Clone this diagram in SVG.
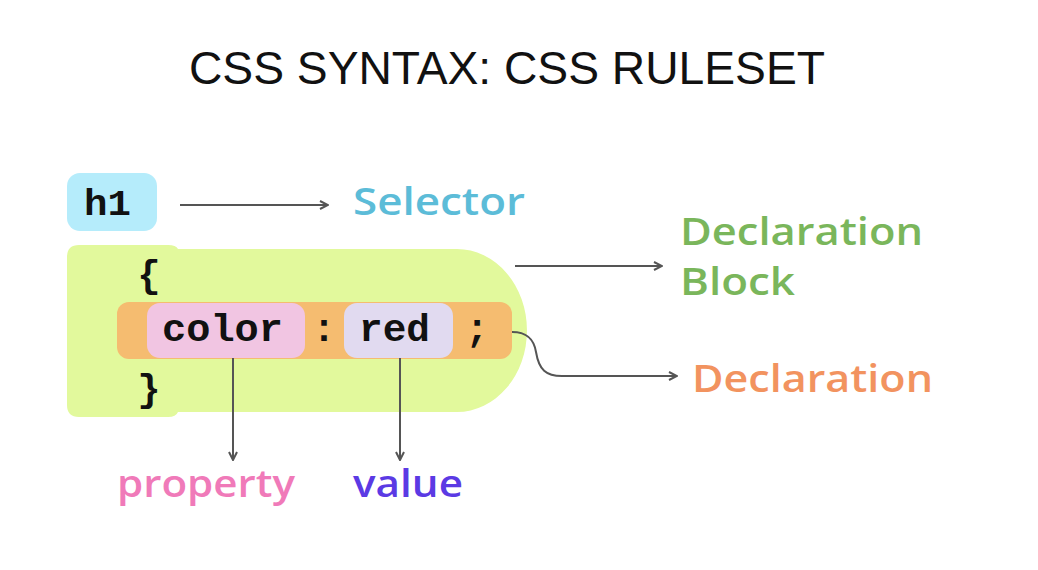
<svg xmlns="http://www.w3.org/2000/svg" width="1038" height="570" viewBox="0 0 1038 570">
<style>
.code{font-family:"Liberation Mono","DejaVu Sans Mono",monospace;font-weight:bold;fill:#111;}
.lbl{font-family:"Open Sans","Noto Sans",sans-serif;font-weight:600;font-size:37px;}
.conn{stroke:#555;stroke-width:2;fill:none;}
</style>
<defs>
<marker id="arr" viewBox="0 0 10 10" refX="9" refY="5" markerWidth="10" markerHeight="10" markerUnits="userSpaceOnUse" orient="auto">
<path d="M1,1 L9,5 L1,9" fill="none" stroke="#555" stroke-width="2"/>
</marker>
</defs>
<rect width="1038" height="570" fill="#ffffff"/>
<text x="189" y="84" font-family="'Liberation Sans',Arial,sans-serif" font-size="46" fill="#111" textLength="636" lengthAdjust="spacingAndGlyphs">CSS SYNTAX: CSS RULESET</text>

<g id="block">
<path d="M79,245 L168,245 Q176,245 178,249 L457,249 A70,81.5 0 0 1 457,412 L178,412 Q176,417 168,417 L79,417 Q67,417 67,405 L67,257 Q67,245 79,245 Z" fill="#e2f99c"/>
<text class="code" x="149" y="287" font-size="39" text-anchor="middle">{</text>
<text class="code" x="149" y="401" font-size="39" text-anchor="middle">}</text>
</g>
<g id="declaration">
<rect x="117" y="302" width="395" height="57" rx="12" fill="#f5bc70"/>
<text class="code" x="324" y="341" font-size="39" text-anchor="middle">:</text>
<text class="code" x="477" y="341" font-size="39" text-anchor="middle">;</text>
</g>
<g id="prop">
<rect x="147" y="303" width="158" height="55" rx="13" fill="#f1c5e2"/>
<text class="code" x="162" y="341" font-size="39" textLength="121" lengthAdjust="spacingAndGlyphs">color</text>
</g>
<g id="val">
<rect x="344" y="303" width="109" height="55" rx="13" fill="#e1daf0"/>
<text class="code" x="359" y="341" font-size="39" textLength="71" lengthAdjust="spacingAndGlyphs">red</text>
</g>
<g id="h1">
<rect x="67" y="173" width="90" height="58" rx="13" fill="#b5ecfb"/>
<text class="code" x="84" y="215" font-size="37" textLength="47" lengthAdjust="spacingAndGlyphs">h1</text>
</g>

<g id="labels">
<text class="lbl" x="353" y="215" fill="#5cbcd8" textLength="172" lengthAdjust="spacingAndGlyphs">Selector</text>
<text class="lbl" x="680" y="245" fill="#7ab65b" textLength="243" lengthAdjust="spacingAndGlyphs">Declaration</text>
<text class="lbl" x="680" y="295" fill="#7ab65b" textLength="115" lengthAdjust="spacingAndGlyphs">Block</text>
<text class="lbl" x="692" y="392" fill="#f2935f" textLength="241" lengthAdjust="spacingAndGlyphs">Declaration</text>
<text class="lbl" x="117" y="497" fill="#f07ab9" textLength="178" lengthAdjust="spacingAndGlyphs">property</text>
<text class="lbl" x="353" y="497" fill="#5b3ae4" textLength="110" lengthAdjust="spacingAndGlyphs">value</text>
</g>

<g id="connectors">
<line class="conn" x1="180" y1="205" x2="328" y2="205" marker-end="url(#arr)"/>
<line class="conn" x1="515" y1="266" x2="662" y2="266" marker-end="url(#arr)"/>
<path class="conn" d="M512,332 C528,332 534,340 536,352 C539,370 546,376 562,376 L677,376" marker-end="url(#arr)"/>
<line class="conn" x1="233" y1="358" x2="233" y2="460" marker-end="url(#arr)"/>
<line class="conn" x1="400" y1="358" x2="400" y2="460" marker-end="url(#arr)"/>
</g>
</svg>
